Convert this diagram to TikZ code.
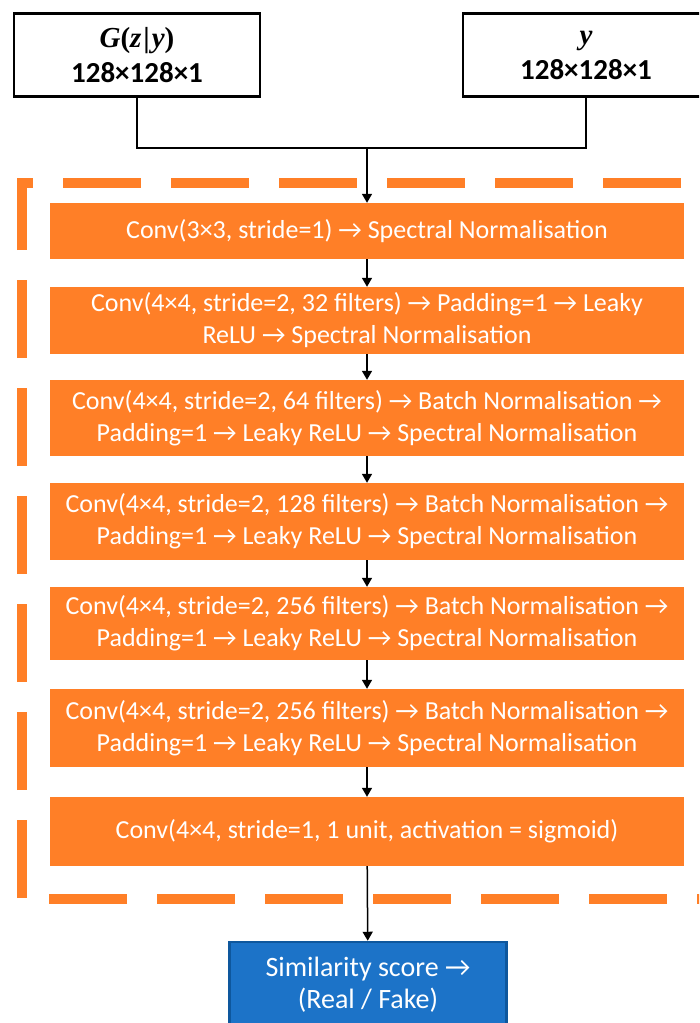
\documentclass[tikz,border=0pt]{standalone}
\usepackage{amsmath}
\usepackage{fontspec}
\setmainfont{Carlito}
\newfontfamily\varfont{Liberation Serif}
\usetikzlibrary{arrows.meta}

\definecolor{convorange}{RGB}{255,127,39}
\definecolor{scoreblue}{RGB}{28,115,200}
\definecolor{scoreedge}{RGB}{14,87,157}

\begin{document}
\begin{tikzpicture}[x=1pt, y=-1pt, >={Triangle[width=10pt,length=9pt]}]
	\tikzstyle{input}=[draw,line width=2.5pt,minimum width=246pt,minimum height=83pt,inner sep=0pt,align=center,font=\fontsize{29}{35}\selectfont]
	\tikzstyle{layer}=[fill=convorange,text=white,minimum width=634pt,inner sep=0pt,align=center,font=\fontsize{26}{32}\selectfont]
	\tikzstyle{score}=[fill=scoreblue,draw=scoreedge,line width=2.5pt,text=white,minimum width=277pt,minimum height=86pt,inner sep=0pt,align=center,font=\fontsize{28}{32}\selectfont]
	\tikzstyle{frame}=[draw=convorange,line width=9.5pt,dash pattern=on 78pt off 30pt]
	\tikzstyle{link}=[line width=1.5pt]
	
	\useasboundingbox (0,0) rectangle (699,1023);
	\clip (0,0) rectangle (699,1023);
	
	% dashed frame round the conv layers
	\draw[frame] (22,898) -- (22,183) -- (720,183);
	\draw[frame] (49,899) -- (720,899);
	
	\node[input](gen) at (137,55){{\varfont\bfseries\itshape G\upshape(\itshape z\kern2pt\upshape|\kern2pt\itshape y\upshape)}\\\textbf{128×128×1}};
	\node[input](real) at (586,55){{\varfont\bfseries\itshape y}\\\textbf{128×128×1}};
	
	\node[layer,minimum height=56pt](c1) at (367,231){Conv(3×3, stride=1) → Spectral Normalisation};
	\node[layer,minimum height=67pt](c2) at (367,320.5){Conv(4×4, stride=2, 32 filters) → Padding=1 → Leaky\\ReLU → Spectral Normalisation};
	\node[layer,minimum height=76pt](c3) at (367,418){Conv(4×4, stride=2, 64 filters) → Batch Normalisation →\\Padding=1 → Leaky ReLU → Spectral Normalisation};
	\node[layer,minimum height=77pt](c4) at (367,521.5){Conv(4×4, stride=2, 128 filters) → Batch Normalisation →\\Padding=1 → Leaky ReLU → Spectral Normalisation};
	\node[layer,minimum height=73pt](c5) at (367,623.5){Conv(4×4, stride=2, 256 filters) → Batch Normalisation →\\Padding=1 → Leaky ReLU → Spectral Normalisation};
	\node[layer,minimum height=78pt](c6) at (367,728){Conv(4×4, stride=2, 256 filters) → Batch Normalisation →\\Padding=1 → Leaky ReLU → Spectral Normalisation};
	\node[layer,minimum height=69pt](c7) at (367,831.5){Conv(4×4, stride=1, 1 unit, activation = sigmoid)};
	
	\node[score](out) at (368,985){Similarity score →\\(Real / Fake)};
	
	\coordinate (join) at (367,148);
	\draw[link] (gen.south) |- (join);
	\draw[link] (real.south) |- (join);
	\draw[link,->] (join) -- (c1.north);
	
	\draw[link,->] (c1) -- (c2);
	\draw[link,->] (c2) -- (c3);
	\draw[link,->] (c3) -- (c4);
	\draw[link,->] (c4) -- (c5);
	\draw[link,->] (c5) -- (c6);
	\draw[link,->] (c6) -- (c7);
	\draw[link,->] (c7) -- (out);
	
\end{tikzpicture}
\end{document}
